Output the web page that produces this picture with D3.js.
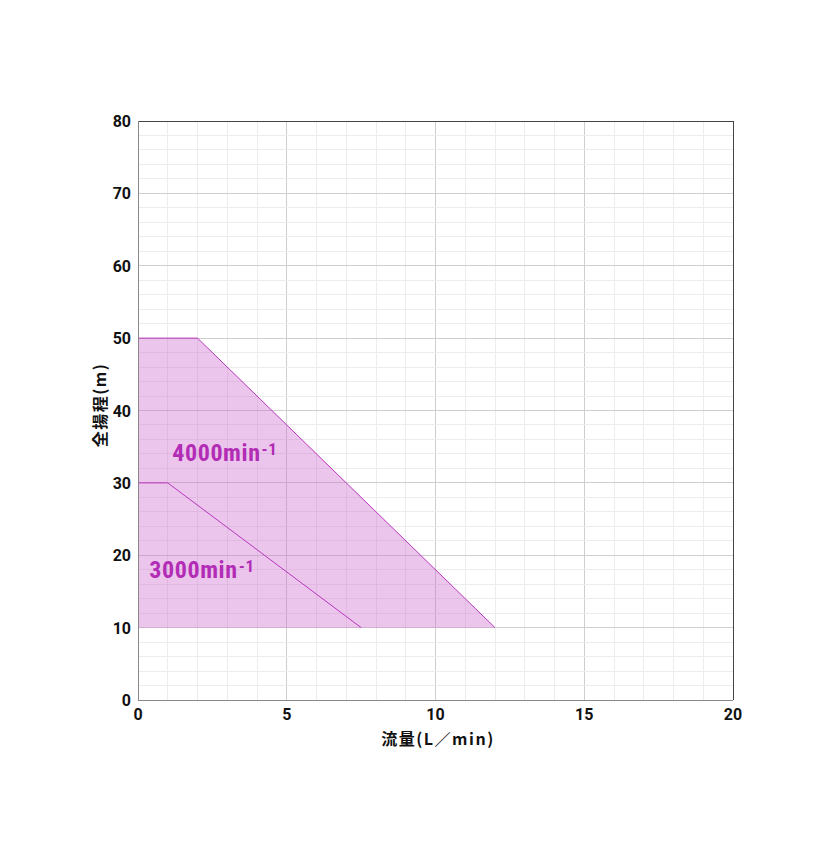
<!DOCTYPE html>
<html><head><meta charset="utf-8">
<script src="https://cdn.jsdelivr.net/npm/d3@7"></script>
<style>body{margin:0;background:#fff}</style>
</head><body>
<svg id="c" width="840" height="842"></svg>
<script>
const xTicks = [0,5,10,15,20];
const yTicks = [0,10,20,30,40,50,60,70,80];
const xMinor = d3.range(0,21,1);
const yMinor = d3.range(0,81,2);
const curve4000 = [[0,50],[2,50],[12,10]];
const curve3000 = [[0,30],[1,30],[7.5,10]];
const regionBase = 10;
const labels = [{text:"4000min", sup:"-1", x:1.15, y:33.0},{text:"3000min", sup:"-1", x:0.38, y:16.9}];

const svg = d3.select("#c");
const L=138,R=733,T=121,B=700;
const x = d3.scaleLinear().domain([0,20]).range([L,R]);
const y = d3.scaleLinear().domain([0,80]).range([B,T]);
const font = "Roboto, 'Noto Sans CJK JP', sans-serif";
const narrow = "'Liberation Sans Narrow', 'Roboto Condensed', Roboto, sans-serif";
const jp = "'Noto Sans CJK JP', sans-serif";

const g = svg.append("g");
g.selectAll(".vm").data(xMinor).join("line").attr("x1",d=>x(d)).attr("x2",d=>x(d)).attr("y1",T).attr("y2",B)
 .attr("stroke",d=>d%5===0?"#cfcfcf":"#ececec").attr("stroke-width",1).attr("shape-rendering","crispEdges");
g.selectAll(".hm").data(yMinor).join("line").attr("y1",d=>y(d)).attr("y2",d=>y(d)).attr("x1",L).attr("x2",R)
 .attr("stroke",d=>d%10===0?"#cfcfcf":"#ececec").attr("stroke-width",1).attr("shape-rendering","crispEdges");

const poly = curve4000.concat([[curve4000[curve4000.length-1][0],regionBase],[0,regionBase]]);
g.append("path").attr("d", d3.line().x(d=>x(d[0])).y(d=>y(d[1]))(poly)+"Z")
 .attr("fill","rgba(204,102,204,0.38)");
const ln = d3.line().x(d=>x(d[0])).y(d=>y(d[1]));
g.append("path").attr("d",ln(curve4000)).attr("fill","none").attr("stroke","#b836bd").attr("stroke-width",1);
g.append("path").attr("d",ln(curve3000)).attr("fill","none").attr("stroke","#b836bd").attr("stroke-width",1);

g.append("line").attr("x1",L).attr("x2",R).attr("y1",T).attr("y2",T).attr("stroke","#444").attr("shape-rendering","crispEdges");
g.append("line").attr("x1",R).attr("x2",R).attr("y1",T).attr("y2",B).attr("stroke","#444").attr("shape-rendering","crispEdges");
g.append("line").attr("x1",L).attr("x2",L).attr("y1",T).attr("y2",B).attr("stroke","#888").attr("shape-rendering","crispEdges");
g.append("line").attr("x1",L).attr("x2",R).attr("y1",B).attr("y2",B).attr("stroke","#888").attr("shape-rendering","crispEdges");

svg.selectAll(".yt").data(yTicks).join("text").attr("x",131).attr("y",d=>y(d)+6).attr("text-anchor","end")
 .attr("font-family",font).attr("font-weight","bold").attr("font-size",16).attr("fill","#111").text(d=>d);
svg.selectAll(".xt").data(xTicks).join("text").attr("x",d=>x(d)).attr("y",720).attr("text-anchor","middle")
 .attr("font-family",font).attr("font-weight","bold").attr("font-size",16).attr("fill","#111").text(d=>d);

svg.append("text").attr("x",438).attr("y",745).attr("text-anchor","middle").attr("font-family",jp)
 .attr("font-weight","bold").attr("font-size",16).attr("letter-spacing",1.5).attr("fill","#111").text("流量(L／min)");
svg.append("text").attr("transform","translate(106,405) rotate(-90)").attr("text-anchor","middle").attr("font-family",jp)
 .attr("font-weight","bold").attr("font-size",16).attr("letter-spacing",1.5).attr("fill","#111").text("全揚程(m)");

labels.forEach(l=>{
  const t = svg.append("text").attr("x",x(l.x)).attr("y",y(l.y)).attr("font-family",narrow)
   .attr("font-weight","bold").attr("font-size",24).attr("letter-spacing",0.6).attr("fill","#b22cb6");
  t.append("tspan").text(l.text);
  t.append("tspan").attr("dx",1).attr("dy",-6).attr("font-size",17).text(l.sup);
});
</script>
</body></html>
